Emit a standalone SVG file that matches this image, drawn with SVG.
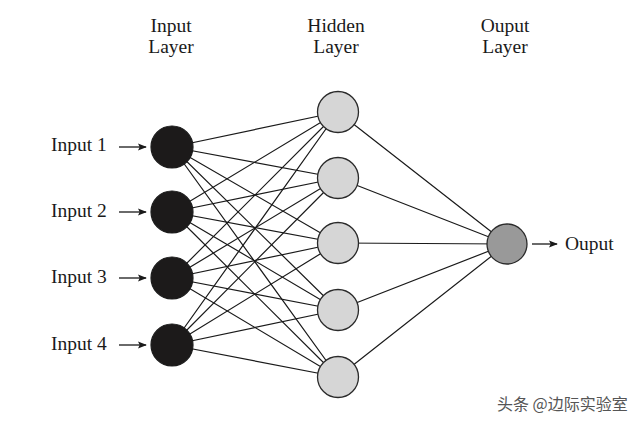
<svg xmlns="http://www.w3.org/2000/svg" width="640" height="423" viewBox="0 0 640 423">
<style>
.t{font-family:"Liberation Serif","DejaVu Serif",serif;font-size:19.5px;fill:#1a1a1a}
.c{stroke:#1a1a1a;stroke-width:1.2;fill:none}
.in{fill:#1c1a1a;stroke:#1a1a1a;stroke-width:1.2}
.hid{fill:#d6d6d6;stroke:#2a2a2a;stroke-width:1.3}
.out{fill:#999;stroke:#2a2a2a;stroke-width:1.3}
.ar{stroke:#1a1a1a;stroke-width:1.3;fill:none;marker-end:url(#ah)}
</style>
<defs>
<marker id="ah" viewBox="0 0 10 10" refX="9" refY="5" markerWidth="9" markerHeight="9" orient="auto" markerUnits="userSpaceOnUse">
<path d="M0,1 L10,5 L0,9 L2,5 Z" fill="#1a1a1a"/>
</marker>
</defs>
<rect width="640" height="423" fill="#fff"/>
<g id="titles">
<text class="t" x="171" y="32" text-anchor="middle">Input</text>
<text class="t" x="171" y="53" text-anchor="middle">Layer</text>
<text class="t" x="336" y="32" text-anchor="middle">Hidden</text>
<text class="t" x="336" y="53" text-anchor="middle">Layer</text>
<text class="t" x="505" y="32" text-anchor="middle">Ouput</text>
<text class="t" x="505" y="53" text-anchor="middle">Layer</text>
</g>
<g id="connectors">
<g class="c">
<path d="M172,147L338,112M172,147L338,178M172,147L338,243M172,147L338,310M172,147L338,377"/>
<path d="M172,212L338,112M172,212L338,178M172,212L338,243M172,212L338,310M172,212L338,377"/>
<path d="M172,278L338,112M172,278L338,178M172,278L338,243M172,278L338,310M172,278L338,377"/>
<path d="M172,345L338,112M172,345L338,178M172,345L338,243M172,345L338,310M172,345L338,377"/>
<path d="M338,112L507,244M338,178L507,244M338,243L507,244M338,310L507,244M338,377L507,244"/>
</g>
<path class="ar" d="M119,147H146"/>
<path class="ar" d="M119,212H146"/>
<path class="ar" d="M119,278H146"/>
<path class="ar" d="M119,345H146"/>
<path class="ar" d="M532,244H557"/>
</g>
<g id="input1"><circle class="in" cx="172" cy="147" r="21"/><text class="t" x="51" y="151">Input 1</text></g>
<g id="input2"><circle class="in" cx="172" cy="212" r="21"/><text class="t" x="51" y="217">Input 2</text></g>
<g id="input3"><circle class="in" cx="172" cy="278" r="21"/><text class="t" x="51" y="283">Input 3</text></g>
<g id="input4"><circle class="in" cx="172" cy="345" r="21"/><text class="t" x="51" y="350">Input 4</text></g>
<g id="hidden1"><circle class="hid" cx="338" cy="112" r="20.5"/></g>
<g id="hidden2"><circle class="hid" cx="338" cy="178" r="20.5"/></g>
<g id="hidden3"><circle class="hid" cx="338" cy="243" r="20.5"/></g>
<g id="hidden4"><circle class="hid" cx="338" cy="310" r="20.5"/></g>
<g id="hidden5"><circle class="hid" cx="338" cy="377" r="20.5"/></g>
<g id="output"><circle class="out" cx="507" cy="244" r="20"/><text class="t" x="565" y="250">Ouput</text></g>
<text x="497" y="410" style="font-family:'Noto Sans CJK SC',sans-serif;font-size:16px;fill:#555">头条 @边际实验室</text>
</svg>
